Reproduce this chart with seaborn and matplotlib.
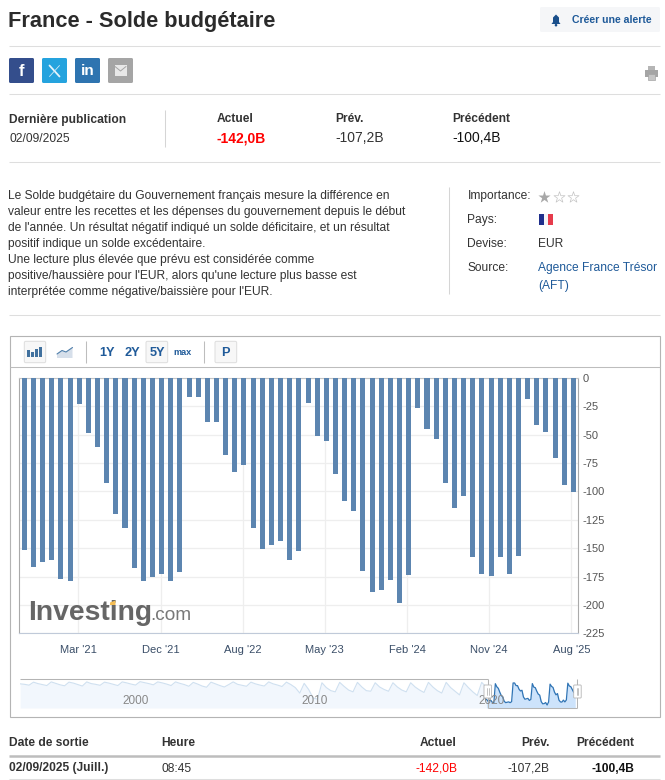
import matplotlib
matplotlib.use('Agg')
import matplotlib.pyplot as plt
import seaborn as sns
import pandas as pd
from matplotlib.patches import Rectangle, FancyBboxPatch, Polygon, Circle

# données
bar_values = [-151.7, -166.7, -162.3, -160.5, -177.2, -179.0, -22.9, -48.5, -60.9, -92.6,
              -119.9, -132.3, -167.5, -179.0, -175.5, -172.8, -179.0, -171.0, -16.8, -16.8,
              -38.8, -38.8, -67.9, -82.9, -76.8, -132.3, -150.8, -147.3, -143.7, -160.5,
              -152.6, -22.0, -51.2, -55.6, -84.7, -108.5, -117.3, -170.2, -188.7, -186.9,
              -178.1, -198.4, -173.7, -26.5, -45.0, -53.8, -92.6, -114.6, -104.1, -157.9,
              -172.8, -174.6, -157.9, -172.8, -157.0, -18.5, -41.5, -47.6, -70.6, -94.4,
              -100.4]
bar_index = list(range(len(bar_values)))
x_tick_pos = [5.9, 14.88, 23.86, 32.84, 41.82, 50.8, 59.78]
x_tick_labels = ["Mar '21", "Dec '21", "Aug '22", "May '23", "Feb '24", "Nov '24", "Aug '25"]
y_ticks = [0, -25, -50, -75, -100, -125, -150, -175, -200, -225]

# navigateur : historique trimestriel à partir de mi-1993
nav_start = 1993.5
nav_history = [-24, -28, -35,
               -10, -22, -30, -38, -8, -20, -32, -40, -10, -18, -30, -42,
               -8, -22, -28, -36, -10, -18, -28, -38, -8, -16, -26, -34,
               -6, -14, -22, -32, -8, -16, -26, -38, -8, -20, -30, -44,
               -12, -26, -42, -52, -10, -24, -38, -50, -30,
               -8, -28, -36, -44, -10, -24, -34, -42, -8, -24, -34, -46,
               -10, -30, -55, -100, -20, -70, -140, -150, -15, -55, -80, -90,
               -12, -45, -75, -90, -12, -50, -80, -85, -15, -50, -70, -85,
               -15, -50, -75, -90, -15, -50, -75, -95, -12, -50, -80, -100,
               -12, -55, -85, -115, -15, -55, -90, -120, -12, -50]
nav_years = [2000, 2010, 2020]

sns.set_theme(style='white')
plt.rcParams['font.family'] = ['Liberation Sans', 'DejaVu Sans']

fig = plt.figure(figsize=(6.65, 7.8), dpi=100, facecolor='white')
W, H = 665, 780


def axes_px(x0, y0, x1, y1):
    return fig.add_axes([x0 / W, 1 - y1 / H, (x1 - x0) / W, (y1 - y0) / H])


# graphique principal
ax = axes_px(19.3, 378, 578, 633.3)
ax.patch.set_alpha(0)
df = pd.DataFrame({'i': bar_index, 'v': bar_values})
sns.barplot(data=df, x='i', y='v', native_scale=True, width=0.55, color='#5C85B0',
            saturation=1, linewidth=0, ax=ax, zorder=3)
ax.set_xlim(-0.55, 60.5)
ax.set_ylim(-225, 0)
ax.set_xlabel('')
ax.set_ylabel('')
ax.set_xticks(x_tick_pos)
ax.set_xticklabels(x_tick_labels, fontsize=8.0, color='#3A4E68')
ax.yaxis.tick_right()
ax.set_yticks(y_ticks)
ax.set_yticklabels([str(t) for t in y_ticks], fontsize=8.0, color='#555555')
ax.tick_params(axis='both', length=0)
ax.tick_params(axis='x', pad=8.7)
ax.tick_params(axis='y', pad=3.5)
ax.grid(True, color='#EEEEEE', lw=0.9)
ax.set_axisbelow(True)
for side, col in [('left', '#AAAAAA'), ('right', '#AAAAAA'), ('top', '#C4C4C4'), ('bottom', '#C0CAD9')]:
    ax.spines[side].set_visible(True)
    ax.spines[side].set_color(col)
    ax.spines[side].set_linewidth(0.8)

# navigateur
nav = axes_px(20, 678.5, 577, 708)
nav.patch.set_alpha(0)
hist_x = [nav_start + k * 0.25 for k in range(len(nav_history))]
recent_start = hist_x[-1] + 0.02
recent_x = [recent_start + k / 12 for k in bar_index]
nav.fill_between(hist_x + recent_x[:1], nav_history + bar_values[:1], -223, color='#F2F7FD', lw=0)
nav.fill_between(recent_x, bar_values, -223, color='#CDE3FB', lw=0)
sns.lineplot(x=hist_x, y=nav_history, color='#CFE0F0', lw=0.8, ax=nav, estimator=None)
sns.lineplot(x=recent_x, y=bar_values, color='#2F74B5', lw=0.9, ax=nav, estimator=None)
nav.set_xlim(1993.49, 2024.87)
nav.set_ylim(-223, 20)
nav.axis('off')

# calque de la page, en pixels
page = fig.add_axes([0, 0, 1, 1], zorder=5)
page.set_xlim(0, W)
page.set_ylim(H, 0)
page.axis('off')
page.patch.set_alpha(0)


def txt(x, y, s, size=8.65, color='#333333', weight='normal', ha='left', **kw):
    page.text(x, y + 2, s, fontsize=size, color=color, fontweight=weight, ha=ha, va='center', **kw)


def hline(y, x0=8.5, x1=660, color='#DEDEDE', lw=0.75):
    page.plot([x0, x1], [y - 0.5, y - 0.5], color=color, lw=lw, solid_capstyle='butt')


def vline(x, y0, y1, color='#D5D5D5', lw=0.75):
    page.plot([x, x], [y0, y1], color=color, lw=lw, solid_capstyle='butt')


def box(x0, y0, x1, y1, fc, ec='none', lw=0.0, r=1.5, z=2):
    page.add_patch(FancyBboxPatch((x0, y0), x1 - x0, y1 - y0, boxstyle=f'round,pad=0,rounding_size={r}',
                                  fc=fc, ec=ec, lw=lw, zorder=z))


# en-tête
txt(8, 19, 'France - Solde budgétaire', size=15.7, color='#2B2B2B', weight='bold')
box(540, 7, 660, 32, '#F5F6F8')
page.add_patch(Polygon([(551.5, 24), (553, 22), (553, 17.5), (556, 14.5), (559, 17.5), (559, 22), (560.5, 24)],
                       fc='#1A4F8B', lw=0, zorder=3))
page.add_patch(Circle((556, 25.2), 1.3, fc='#1A4F8B', lw=0, zorder=3))
txt(572.5, 18, 'Créer une alerte', size=7.6, color='#1F5A99', weight='bold')
hline(46.5)

# boutons sociaux
for x0, col in [(9, '#344E8C'), (42, '#25A3DE'), (75, '#2E74B0'), (108, '#A5A5A5')]:
    box(x0, 58, x0 + 25, 83, col)
txt(21.5, 69, 'f', size=12, color='white', weight='bold', ha='center')
page.plot([49.5, 59.5], [65.5, 76.5], color='#E6F4FB', lw=1.3, zorder=4)
page.plot([59.5, 49.5], [65.5, 76.5], color='#CFEAF7', lw=0.6, zorder=4)
txt(87.5, 69, 'in', size=11, color='white', weight='bold', ha='center')
page.add_patch(Rectangle((114.5, 65), 12, 11, fc='#E8E8E8', lw=0, zorder=3))
page.plot([115, 120.5, 126], [66.5, 71, 66.5], color='#A5A5A5', lw=0.7, zorder=4)
# imprimante
page.add_patch(Rectangle((647.5, 66), 7, 4, fc='#B5B5B5', lw=0, zorder=3))
page.add_patch(Rectangle((644.5, 69.5), 13.5, 7, fc='#A5A5A5', lw=0, zorder=3))
page.add_patch(Rectangle((647.5, 74), 7.5, 5.5, fc='#C5C5C5', ec='#A5A5A5', lw=0.5, zorder=4))
hline(94.5)

# dernière publication
txt(9, 117.5, 'Dernière publication', weight='bold')
txt(9, 137, '02/09/2025')
vline(164.5, 110, 147)
txt(216.5, 117.5, 'Actuel', weight='bold')
txt(216.5, 136.5, '-142,0B', size=10, color='#FF0000', weight='bold')
txt(335, 117.5, 'Prév.', weight='bold')
txt(335, 136.5, '-107,2B', size=10)
txt(452.5, 117.5, 'Précédent', weight='bold')
txt(452.5, 136.5, '-100,4B', size=10, color='#111111')
hline(162.5)

# description
desc = ["Le Solde budgétaire du Gouvernement français mesure la différence en",
        "valeur entre les recettes et les dépenses du gouvernement depuis le début",
        "de l'année. Un résultat négatif indiqué un solde déficitaire, et un résultat",
        "positif indique un solde excédentaire.",
        "Une lecture plus élevée que prévu est considérée comme",
        "positive/haussière pour l'EUR, alors qu'une lecture plus basse est",
        "interprétée comme négative/baissière pour l'EUR."]
for k, line in enumerate(desc):
    txt(8, 194 + 16 * k, line)
vline(448.5, 187, 294)
txt(467.5, 194, 'Importance:')
page.scatter([544], [196.5], marker='*', s=85, color='#A8A8A8', lw=0, zorder=3)
page.scatter([558.5, 573], [196.5, 196.5], marker='*', s=70, facecolor='white', edgecolor='#C4C4C4', lw=0.5, zorder=3)
txt(467.5, 218, 'Pays:')
page.add_patch(Rectangle((538.5, 214), 5, 11, fc='#1F2F8C', lw=0))
page.add_patch(Rectangle((543.5, 214), 4.5, 11, fc='#F4F4F8', lw=0))
page.add_patch(Rectangle((548, 214), 5, 11, fc='#E63B4C', lw=0))
txt(467.5, 242, 'Devise:')
txt(538, 242, 'EUR')
txt(467.5, 266, 'Source:')
txt(538, 266, 'Agence France Trésor', color='#1F5A99')
txt(538, 284, '(AFT)', color='#1F5A99')
hline(315.5)

# cadre du graphique
page.add_patch(Rectangle((9.5, 336), 650.5, 381, fc='none', ec='#B4B4B4', lw=0.8))
hline(367.5, 9.5, 660, color='#BDBDBD')

# barre d'outils
box(24.3, 341.3, 45.7, 362.7, '#F7F7F7', ec='#DDDDDD', lw=0.7)
for x0, y0 in [(27.2, 350), (31.1, 352), (35, 349), (38.9, 347)]:
    page.add_patch(Rectangle((x0, y0), 3, 357 - y0, fc='#41719E', lw=0, zorder=3))
page.add_patch(Polygon([(57, 358), (57, 354), (62, 350.5), (66, 352), (72.5, 347.5), (72.5, 358)], fc='#D6DFEA', lw=0, zorder=3))
page.plot([57, 62, 66, 72.5], [354, 350.5, 352, 347.5], color='#4F7FAB', lw=0.8, zorder=4)
vline(85.7, 341, 363, color='#BDBDBD')
vline(204.3, 341, 363, color='#BDBDBD')
box(146, 341.3, 167.7, 362.7, '#F7F7F7', ec='#DDDDDD', lw=0.7)
box(215, 341.3, 236.7, 362.7, '#F7F7F7', ec='#DDDDDD', lw=0.7)
for cx, s in [(106.7, '1Y'), (132, '2Y'), (157, '5Y')]:
    txt(cx, 350.5, s, size=9.2, color='#1F5A99', weight='bold', ha='center', zorder=5)
txt(182.5, 350.5, 'max', size=6.6, color='#1F5A99', weight='bold', ha='center', zorder=5)
txt(225.8, 350.5, 'P', size=9.2, color='#1F5A99', weight='bold', ha='center', zorder=5)

# logo
txt(28.5, 611.5, 'Investing', size=20.3, color='#666666', weight='bold')
txt(150, 614, '.com', size=13.7, color='#777777')
page.add_patch(Polygon([(110, 602.5), (115.5, 600.5), (115.5, 605), (110, 605)], fc='#F5BE55', lw=0, zorder=6))

# habillage du navigateur
hline(679, 20, 488, color='#B4B4B4')
vline(488, 678.5, 708, color='#B4B4B4')
vline(577, 678.5, 708, color='#B4B4B4')
hline(708.5, 488, 577, color='#B4B4B4')
for yr, cx in zip(nav_years, [135.6, 315, 491.5]):
    txt(cx, 698.5, str(yr), size=8.5, color='#888888', ha='center', zorder=3)
for x0 in [484, 573.7]:
    box(x0, 685, x0 + 7.5, 698, 'white', ec='#B4B4B4', lw=0.6, r=0.8, z=4)
    page.plot([x0 + 3, x0 + 3], [688, 695], color='#AAAAAA', lw=0.5, zorder=5)
    page.plot([x0 + 4.5, x0 + 4.5], [688, 695], color='#AAAAAA', lw=0.5, zorder=5)
page.set_xlim(0, W)
page.set_ylim(H, 0)

# tableau
txt(9, 741.5, 'Date de sortie', weight='bold')
txt(161.5, 741.5, 'Heure', weight='bold')
txt(457, 741.5, 'Actuel', weight='bold', ha='right')
txt(550, 741.5, 'Prév.', weight='bold', ha='right')
txt(634, 741.5, 'Précédent', weight='bold', ha='right')
hline(756.2, color='#BDBDBD', lw=1.8)
txt(9, 766.5, '02/09/2025 (Juill.)', weight='bold')
txt(161.5, 766.5, '08:45')
txt(457, 766.5, '-142,0B', color='#FF0000', ha='right')
txt(550, 766.5, '-107,2B', ha='right')
txt(634, 766.5, '-100,4B', color='#111111', weight='bold', ha='right')
hline(779)

fig.savefig('out.png', dpi=100, facecolor='white')
